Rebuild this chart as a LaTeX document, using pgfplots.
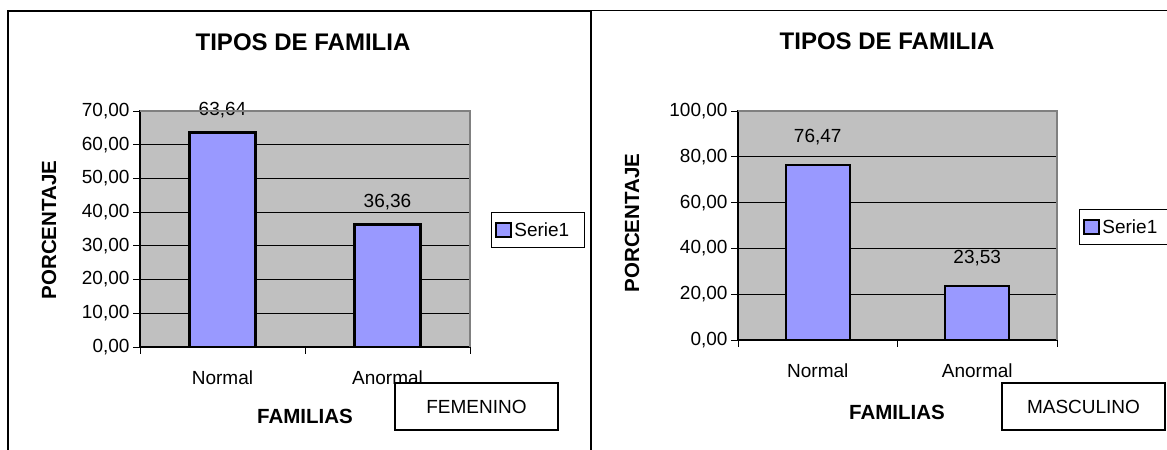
\documentclass[border=0pt]{standalone}
\usepackage{fontspec}
\setmainfont{Liberation Sans}
\usepackage{pgfplots}
\pgfplotsset{compat=1.18}
\definecolor{barblue}{HTML}{9999FF}
\definecolor{plotbg}{HTML}{C0C0C0}
\definecolor{bordergray}{HTML}{808080}
\newcommand{\tfont}{\fontsize{24bp}{28bp}\selectfont\bfseries}
\newcommand{\lfont}{\fontsize{20.5bp}{24bp}\selectfont\bfseries}
\newcommand{\nfont}{\fontsize{19bp}{22bp}\selectfont}
\pgfkeys{/pgf/number format/.cd, fixed, fixed zerofill, precision=2, use comma, assume math mode=true}
\pgfplotsset{
  excel/.style={
    scale only axis,
    ybar,
    bar width=0.4,
    xmin=-0.5, xmax=1.5, ymin=0,
    xtick={0,1},
    xticklabels={Normal,Anormal},
    minor xtick={-0.5,0.5,1.5},
    major x tick style={draw=none},
    tick align=outside,
    xtick pos=bottom, ytick pos=left,
    major tick length=7bp, minor tick length=7bp,
    tick style={black, line width=0.8bp},
    axis line style={black, line width=1.4bp},
    axis background/.style={fill=plotbg},
    ymajorgrids,
    grid style={black, line width=0.8bp},
    ticklabel style={font=\nfont},
    xticklabel style={anchor=center, yshift=-24bp},
    legend style={font=\nfont, draw=black, line width=0.8bp, anchor=west,
      inner xsep=4bp, inner ysep=8bp},
    after end axis/.code={
      \draw[bordergray, line width=2.2bp] (rel axis cs:0,1) -- (rel axis cs:1,1) -- (rel axis cs:1,0);
    },
  }
}
\begin{document}
\begin{tikzpicture}[x=1bp,y=1bp]
\useasboundingbox (0,0) rectangle (1167,450);
\clip (0,0) rectangle (1167,450);
\fill[white] (0,0) rectangle (1167,450);
% frames
\draw[black, line width=1.4bp] (8,0) -- (8,439) -- (591,439);
\draw[black, line width=1.2bp] (591,0) -- (591,439.5) -- (1167,439.5);

% left chart
\begin{axis}[excel,
  at={(140bp,103bp)}, anchor=south west,
  width=330bp, height=236bp,
  ymax=70, ytick={0,10,...,70},
  legend style={at={(1.0636,0.496)}},
]
\addplot[fill=barblue, draw=black, line width=2.2bp,
  nodes near coords,
  every node near coord/.append style={font=\nfont, anchor=center, yshift=22bp},
  legend image code/.code={\draw[fill=barblue, draw=black, line width=2bp] (0bp,-7bp) rectangle (15bp,7bp);}]
  coordinates {(0,63.64) (1,36.36)};
\legend{Serie1\hspace*{9bp}}
\end{axis}
\node[font=\tfont] at (303,408) {TIPOS DE FAMILIA};
\node[font=\lfont, rotate=90] at (49,220) {PORCENTAJE};
\node[font=\lfont] at (305,34) {FAMILIAS};
\draw[black, line width=1.2bp, fill=white] (395,20) rectangle (558,67);
\node[font=\nfont] at (476.5,43.5) {FEMENINO};

% right chart
\begin{axis}[excel,
  at={(738bp,110bp)}, anchor=south west,
  width=319bp, height=229bp,
  ymax=100, ytick={0,20,...,100},
  legend style={at={(1.069,0.493)}},
]
\addplot[fill=barblue, draw=black, line width=2.2bp,
  nodes near coords,
  every node near coord/.append style={font=\nfont, anchor=center, yshift=28bp},
  legend image code/.code={\draw[fill=barblue, draw=black, line width=2bp] (0bp,-7bp) rectangle (15bp,7bp);}]
  coordinates {(0,76.47) (1,23.53)};
\legend{Serie1\hspace*{9bp}}
\end{axis}
\node[font=\tfont] at (887,409) {TIPOS DE FAMILIA};
\node[font=\lfont, rotate=90] at (632,227) {PORCENTAJE};
\node[font=\lfont] at (897,38) {FAMILIAS};
\draw[black, line width=1.2bp, fill=white] (1002,20) rectangle (1165,67);
\node[font=\nfont] at (1083.5,43.5) {MASCULINO};
\end{tikzpicture}
\end{document}
